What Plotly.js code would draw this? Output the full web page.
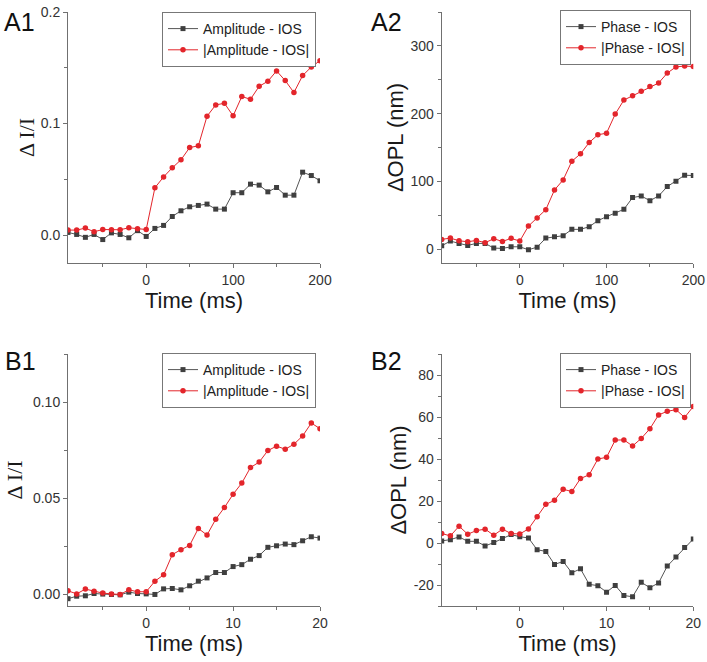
<!DOCTYPE html>
<html>
<head>
<meta charset="utf-8">
<script src="https://cdn.plot.ly/plotly-3.0.1.min.js"></script>
<style>html,body{margin:0;padding:0;background:#fff;}#chart{width:707px;height:662px;}</style>
</head>
<body>
<div id="chart"></div>
<script>
// ---- Data ----
const timeA = [-90,-80,-70,-60,-50,-40,-30,-20,-10,0,10,20,30,40,50,60,70,80,90,100,110,120,130,140,150,160,170,180,190,200];
const timeB = [-9,-8,-7,-6,-5,-4,-3,-2,-1,0,1,2,3,4,5,6,7,8,9,10,11,12,13,14,15,16,17,18,19,20];

const ampIOS_A = [0.0024,0.0006,-0.002,0.0006,-0.004,0.002,0.0006,-0.0024,0.004,-0.0012,0.006,0.0087,0.0167,0.0218,0.0254,0.0266,0.0278,0.0233,0.0233,0.038,0.038,0.0457,0.0448,0.0388,0.0427,0.0358,0.0358,0.0564,0.0534,0.0487];
const absAmpIOS_A = [0.0045,0.0045,0.0063,0.003,0.005,0.0048,0.0048,0.0066,0.0057,0.005,0.0424,0.0522,0.0603,0.0675,0.0785,0.080,0.1066,0.1167,0.1182,0.1069,0.1242,0.1218,0.1334,0.1379,0.1472,0.1385,0.1278,0.143,0.1507,0.1564];

const phaseIOS_A = [5.4,12.3,8.9,5.9,8.9,8.9,2,1.5,3.9,3.9,-0.5,3.4,16.7,18.7,20.2,29.6,29.6,33.5,42.4,48.3,53.2,59.1,76.4,78.8,71.9,78.8,92.6,100.5,109.4,108.9];
const absPhaseIOS_A = [14.8,16.7,12.8,11.3,13.3,9.9,15.8,11.8,16.3,12.3,34.5,46.3,58.6,87.7,102.5,130,140.9,157.6,169,171.4,199.5,220.2,226.6,233,240,245.3,260,269,270.4,269.5];

const ampIOS_B = [-0.0022,-0.0009,-0.0007,0.0005,0.0002,0,-0.0002,0.0012,0.0005,0.0003,0,0.0029,0.0031,0.0024,0.0045,0.0069,0.0086,0.0114,0.0114,0.0145,0.0155,0.0183,0.0202,0.0245,0.0253,0.0262,0.0259,0.0279,0.030,0.0293];
const absAmpIOS_B = [0.0019,0.0003,0.0028,0.0017,0.0007,0.0003,0.0,0.0024,0.0014,0.0014,0.0069,0.0102,0.0207,0.0233,0.0255,0.0343,0.0309,0.0391,0.0452,0.0521,0.0579,0.066,0.0688,0.0748,0.0771,0.0755,0.0781,0.0824,0.0891,0.0862];

const phaseIOS_B = [1,1.6,2.9,0.8,0.8,-1.4,0.2,2.1,4,3,2.4,-3.2,-4,-10.2,-8.8,-14.2,-12.3,-19.7,-20.3,-23.4,-20.2,-25,-25.6,-18.7,-21.3,-19,-11,-6.7,-2.2,1.9];
const absPhaseIOS_B = [4.5,3.4,8,4.2,5.9,6.6,3.7,6.6,4.5,4.3,6.7,12.5,18.4,20.3,25.6,24.5,30.7,32.5,40,40.8,49,49.1,46.2,49.8,54.4,61,62.7,63.5,59.8,65];

const seriesNamesAmp = ['Amplitude - IOS', '|Amplitude - IOS|'];
const seriesNamesPhase = ['Phase - IOS', '|Phase - IOS|'];
const panelLabels = ['A1','A2','B1','B2'];
const xTitle = 'Time (ms)';
const yTitleAmp = '\u0394 I/I';
const yTitlePhase = '\u0394OPL (nm)';
const b2TickVals = [-20,0,20,40,60,80];
const b2TickText = ['-20','0','20','40','60','80'];

// ---- Styling / layout ----
const W = 707, H = 662;
const BLACK = '#3f3f3f', RED = '#e3252b';
const AX = '#707070';
const fx = px => px / W;
const fy = px => 1 - px / H;

function blackTrace(x, y, xa, ya, name, leg) {
  return {x, y, xaxis: xa, yaxis: ya, name, legend: leg, type: 'scatter', mode: 'lines+markers',
    line: {color: '#555555', width: 1}, marker: {symbol: 'square', size: 5, color: BLACK}};
}
function redTrace(x, y, xa, ya, name, leg) {
  return {x, y, xaxis: xa, yaxis: ya, name, legend: leg, type: 'scatter', mode: 'lines+markers',
    line: {color: RED, width: 1}, marker: {symbol: 'circle', size: 5.5, color: RED}};
}

const data = [
  blackTrace(timeA, ampIOS_A, 'x', 'y', seriesNamesAmp[0], 'legend'),
  redTrace(timeA, absAmpIOS_A, 'x', 'y', seriesNamesAmp[1], 'legend'),
  blackTrace(timeA, phaseIOS_A, 'x2', 'y2', seriesNamesPhase[0], 'legend2'),
  redTrace(timeA, absPhaseIOS_A, 'x2', 'y2', seriesNamesPhase[1], 'legend2'),
  blackTrace(timeB, ampIOS_B, 'x3', 'y3', seriesNamesAmp[0], 'legend3'),
  redTrace(timeB, absAmpIOS_B, 'x3', 'y3', seriesNamesAmp[1], 'legend3'),
  blackTrace(timeB, phaseIOS_B, 'x4', 'y4', seriesNamesPhase[0], 'legend4'),
  redTrace(timeB, absPhaseIOS_B, 'x4', 'y4', seriesNamesPhase[1], 'legend4')
];

const tickFont = {family: 'Liberation Sans, Arial, sans-serif', size: 14, color: '#333'};
function xAxis(dom, anchor, range, dtick, minorDtick) {
  return {domain: dom, anchor, range, dtick, tick0: 0, showgrid: false, zeroline: false,
    showline: true, linecolor: AX, linewidth: 1, ticks: 'outside', ticklen: 4, tickcolor: AX,
    minor: {dtick: minorDtick, tick0: 0, ticks: 'outside', ticklen: 3, tickcolor: AX, showgrid: false},
    tickfont: tickFont, automargin: false,
    title: {text: xTitle, font: {family: 'Liberation Sans, Arial, sans-serif', size: 22, color: '#1a1a1a'}, standoff: 0}};
}
function yAxis(dom, anchor, range, dtick, minorDtick, fmt, title, tfont, standoff) {
  return {domain: dom, anchor, range, dtick, tick0: 0, tickformat: fmt, showgrid: false, zeroline: false,
    showline: true, linecolor: AX, linewidth: 1, ticks: 'outside', ticklen: 4, tickcolor: AX,
    minor: {dtick: minorDtick, tick0: 0, ticks: 'outside', ticklen: 3, tickcolor: AX, showgrid: false},
    tickfont: tickFont, automargin: false,
    title: {text: title, font: tfont, standoff: standoff}};
}
const serifTitle = {family: 'Liberation Serif, Times New Roman, serif', size: 22, color: '#1a1a1a'};
const sansTitle = {family: 'Liberation Sans, Arial, sans-serif', size: 22, color: '#1a1a1a'};

const xL = [fx(68), fx(320)], xR = [fx(441.7), fx(693.3)];
const yT = [fy(263), fy(12)], yB = [fy(606), fy(354)];

function legendAt(left, top) {
  return {x: fx(left), y: fy(top), xref: 'paper', yref: 'paper', xanchor: 'left', yanchor: 'top',
    bgcolor: '#ffffff', bordercolor: '#777', borderwidth: 1,
    font: {family: 'Liberation Sans, Arial, sans-serif', size: 14, color: '#222'},
    tracegroupgap: 0, itemwidth: 30};
}

const layout = {
  width: W, height: H, margin: {l: 0, r: 0, t: 0, b: 0},
  paper_bgcolor: '#fff', plot_bgcolor: '#fff',
  showlegend: true,
  xaxis: xAxis(xL, 'y', [-90, 200], 100, 50),
  yaxis: yAxis(yT, 'x', [-0.025, 0.2], 0.1, 0.05, '.1f', yTitleAmp, serifTitle, 0),
  xaxis2: xAxis(xR, 'y2', [-90, 200], 100, 50),
  yaxis2: yAxis(yT, 'x2', [-20, 350], 100, 50, 'd', yTitlePhase, sansTitle, 0),
  xaxis3: xAxis(xL, 'y3', [-9, 20], 10, 5),
  yaxis3: yAxis(yB, 'x3', [-0.006, 0.125], 0.05, 0.025, '.2f', yTitleAmp, serifTitle, 4),
  xaxis4: xAxis(xR, 'y4', [-9, 20], 10, 5),
  yaxis4: Object.assign(yAxis(yB, 'x4', [-30, 90], 20, 10, 'd', yTitlePhase, sansTitle, 0),
    {tickmode: 'array', tickvals: b2TickVals, ticktext: b2TickText}),
  legend: legendAt(162, 12),
  legend2: legendAt(560, 10),
  legend3: legendAt(162, 353),
  legend4: legendAt(560, 353),
  annotations: [
    {text: panelLabels[0], x: fx(2), y: fy(6), xref: 'paper', yref: 'paper', xanchor: 'left', yanchor: 'top', showarrow: false, font: {family: 'Liberation Sans, Arial, sans-serif', size: 25, color: '#111'}},
    {text: panelLabels[1], x: fx(369), y: fy(6), xref: 'paper', yref: 'paper', xanchor: 'left', yanchor: 'top', showarrow: false, font: {family: 'Liberation Sans, Arial, sans-serif', size: 25, color: '#111'}},
    {text: panelLabels[2], x: fx(3), y: fy(345), xref: 'paper', yref: 'paper', xanchor: 'left', yanchor: 'top', showarrow: false, font: {family: 'Liberation Sans, Arial, sans-serif', size: 25, color: '#111'}},
    {text: panelLabels[3], x: fx(369), y: fy(345), xref: 'paper', yref: 'paper', xanchor: 'left', yanchor: 'top', showarrow: false, font: {family: 'Liberation Sans, Arial, sans-serif', size: 25, color: '#111'}}
  ]
};

Plotly.newPlot('chart', data, layout, {displayModeBar: false, staticPlot: true});
</script>
</body>
</html>
